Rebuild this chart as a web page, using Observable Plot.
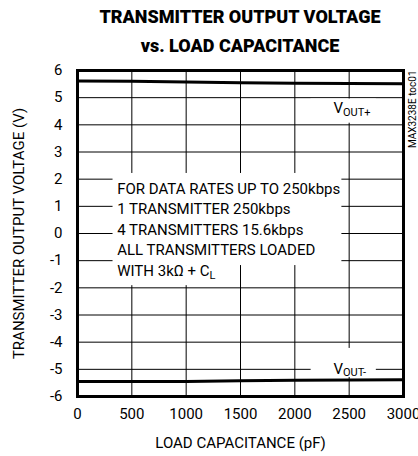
<!DOCTYPE html>
<html>
<head>
<meta charset="utf-8">
<script src="https://cdn.jsdelivr.net/npm/d3@7"></script>
<script src="https://cdn.jsdelivr.net/npm/@observablehq/plot@0.6"></script>
<style>
  html, body { margin: 0; padding: 0; background: white; }
  #title {
    width: 418px; height: 60px; box-sizing: border-box;
    padding-top: 2px; padding-left: 62px;
    text-align: center;
    font-family: Roboto, "Liberation Sans", sans-serif;
    font-weight: 900; font-size: 18px; line-height: 29px; color: black;
  }
  #chart svg { display: block; }
</style>
</head>
<body>
<div id="title">TRANSMITTER OUTPUT VOLTAGE<br>vs. LOAD CAPACITANCE</div>
<div id="chart"></div>
<script>
const FONT = 'Roboto, "Liberation Sans", sans-serif';

// Data
const capacitance = [0, 500, 1000, 1500, 2000, 2500, 3000];
const voutPlus = [5.61, 5.60, 5.58, 5.55, 5.53, 5.52, 5.51];
const voutMinus = [-5.45, -5.45, -5.45, -5.42, -5.40, -5.39, -5.38];
const xTicks = [0, 500, 1000, 1500, 2000, 2500, 3000];
const yTicks = [-6, -5, -4, -3, -2, -1, 0, 1, 2, 3, 4, 5, 6];
const xLabel = "LOAD CAPACITANCE (pF)";
const yLabel = "TRANSMITTER OUTPUT VOLTAGE (V)";
const noteLines = [
  "FOR DATA RATES UP TO 250kbps",
  "1 TRANSMITTER 250kbps",
  "4 TRANSMITTERS 15.6kbps",
  "ALL TRANSMITTERS LOADED",
  "WITH 3kΩ + CL"
];
const seriesLabels = ["VOUT+", "VOUT-"];
const tocLabel = "MAX3238E toc01";

const plusData = capacitance.map((c, i) => ({c, v: voutPlus[i]}));
const minusData = capacitance.map((c, i) => ({c, v: voutMinus[i]}));

// white boxes behind annotations (break the grid like the original)
const masks = [
  {x1: 327, x2: 2433, y1: -1.18, y2: 2.21},
  {x1: 327, x2: 1357, y1: -1.92, y2: -1.18},
  {x1: 2150, x2: 2750, y1: 4.06, y2: 4.95},
  {x1: 2150, x2: 2750, y1: -5.30, y2: -4.23}
];

const plain = d => String(d);

const chart = Plot.plot({
  width: 418,
  height: 396,
  marginTop: 10,
  marginBottom: 60,
  marginLeft: 77,
  marginRight: 15,
  style: {fontFamily: FONT, fontSize: "15px", color: "black", background: "white", overflow: "visible"},
  x: {domain: [0, 3000], label: null},
  y: {domain: [-6, 6], label: null},
  marks: [
    Plot.gridX(xTicks, {stroke: "black", strokeOpacity: 1, strokeWidth: 1}),
    Plot.gridY(yTicks, {stroke: "black", strokeOpacity: 1, strokeWidth: 1}),
    Plot.rect(masks, {x1: "x1", x2: "x2", y1: "y1", y2: "y2", fill: "white"}),
    Plot.frame({stroke: "black", strokeWidth: 3}),
    Plot.line(plusData, {x: "c", y: "v", stroke: "black", strokeWidth: 3}),
    Plot.line(minusData, {x: "c", y: "v", stroke: "black", strokeWidth: 3}),
    Plot.axisX(xTicks, {tickSize: 0, tickPadding: 12, fontSize: 15, tickFormat: plain,
      label: xLabel, labelAnchor: "center", labelArrow: "none", labelOffset: 51}),
    Plot.axisY(yTicks, {tickSize: 0, tickPadding: 15, fontSize: 15, tickFormat: plain,
      label: yLabel, labelAnchor: "center", labelArrow: "none", labelOffset: 64}),
    Plot.text([noteLines.join("\n")], {x: 365, y: 2.0, text: d => d, textAnchor: "start",
      lineAnchor: "top", lineHeight: 1.37, fontSize: 15, className: "note"}),
    Plot.text([seriesLabels[0]], {x: 2355, y: 4.6, text: d => d, textAnchor: "start", fontSize: 15, className: "vlab"}),
    Plot.text([seriesLabels[1]], {x: 2355, y: -5.0, text: d => d, textAnchor: "start", fontSize: 15, className: "vlab"}),
    Plot.text([tocLabel], {frameAnchor: "top-right", text: d => d, rotate: -90, textAnchor: "end",
      dx: 5, fontSize: 10})
  ]
});
document.getElementById("chart").appendChild(chart);

// subscripts: V_OUT and C_L
d3.select(chart).selectAll("g.vlab text").each(function() {
  const t = this.textContent;
  const sel = d3.select(this);
  sel.text(null);
  sel.append("tspan").text(t.slice(0, 1));
  sel.append("tspan").attr("font-size", 11).attr("dy", "0.2em").text(t.slice(1));
});
d3.select(chart).selectAll("g.note tspan, g.note text").each(function() {
  if (this.childElementCount) return;
  const t = this.textContent;
  if (t.endsWith("+ CL")) {
    const sel = d3.select(this);
    sel.text(null);
    sel.append("tspan").text(t.slice(0, -1));
    sel.append("tspan").attr("font-size", 11).attr("dy", "0.25em").text("L");
  }
});
</script>
</body>
</html>
